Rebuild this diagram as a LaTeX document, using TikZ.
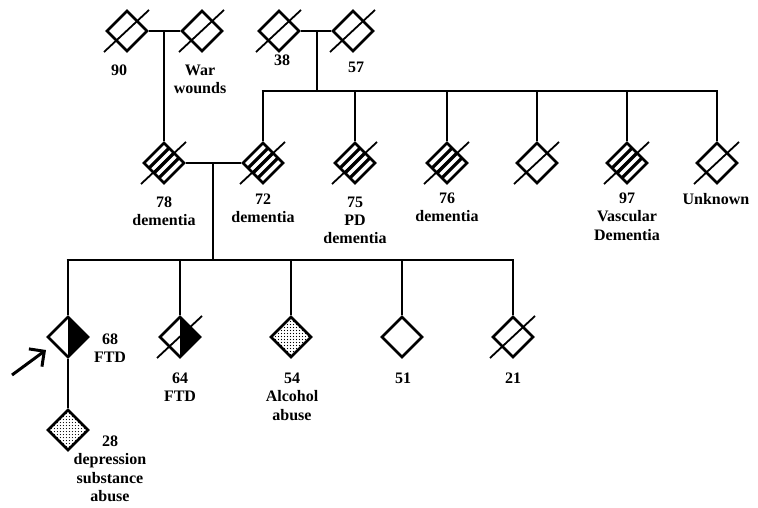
\documentclass[tikz,border=0pt]{standalone}
\usepackage{fontspec}
\setmainfont{Liberation Serif}
\usetikzlibrary{shapes.geometric,patterns,arrows.meta,calc}
\pgfdeclarepatternformonly{bigdots}{\pgfpointorigin}{\pgfpoint{3.4pt}{3.4pt}}{\pgfpoint{3.4pt}{3.4pt}}{
  \pgfpathcircle{\pgfpoint{1.7pt}{1.7pt}}{0.65pt}\pgfusepath{fill}}
\begin{document}
\begin{tikzpicture}[x=1pt,y=-1pt,
  ind/.style={diamond,draw,line width=2.6pt,minimum size=41pt,inner sep=0pt,aspect=1,fill=white},
  striped/.style={ind,path picture={
      \foreach \s in {-7,0,7}{
        \draw[line width=3.2pt] ([shift={(0.7071*\s,0.7071*\s)}]path picture bounding box.center) ++(-25,25) -- ++(50,-50);}
    }},
  halfblack/.style={ind,path picture={
      \fill[black] (path picture bounding box.north) -- (path picture bounding box.east) -- (path picture bounding box.south) -- cycle;}},
  dotted/.style={ind,pattern=bigdots,pattern color=black},
  link/.style={line width=2.6pt},
  strike/.style={line width=1.8pt},
  lbl/.style={font=\fontsize{16}{18.3}\selectfont\bfseries,align=center,anchor=north,inner sep=0pt}
]
\useasboundingbox (0,0) rectangle (758,508);

% ---------- Generation I ----------
\node[ind] (A) at (127,31) {};
\node[ind] (B) at (202,31) {};
\node[ind] (C) at (279,31) {};
\node[ind] (D) at (353,31) {};
\draw[link] (A.east) -- (B.west);
\draw[link] (C.east) -- (D.west);
\coordinate (ab) at (164,31);
\coordinate (cd) at (317,31);

% ---------- Generation II ----------
\node[striped] (E) at (164,163) {};
\node[striped] (F) at (263,163) {};
\node[striped] (G) at (355,163) {};
\node[striped] (H) at (447,163) {};
\node[ind] (I) at (537,163) {};
\node[striped] (J) at (627,163) {};
\node[ind] (K) at (717,163) {};

\coordinate (sib1) at (317,91);
\coordinate (s1F) at (263,91);
\coordinate (s1G) at (355,91);
\coordinate (s1H) at (447,91);
\coordinate (s1I) at (537,91);
\coordinate (s1J) at (627,91);
\coordinate (s1K) at (717,91);
\draw[link] (cd) -- (sib1);
\draw[link] ([xshift=-1.3pt]s1F) -- ([xshift=1.3pt]s1K);
\foreach \n/\c in {F/s1F,G/s1G,H/s1H,I/s1I,J/s1J,K/s1K}{
  \draw[link] ([yshift=-1.3pt]\c) -- (\n.north);
}
\draw[link] (ab) -- (E.north);
\draw[link] (E.east) -- (F.west);
\coordinate (ef) at (213,163);

% ---------- Generation III ----------
\node[halfblack] (L) at (68,337) {};
\node[halfblack] (M) at (180,337) {};
\node[dotted] (N) at (291,337) {};
\node[ind] (O) at (402,337) {};
\node[ind] (P) at (513,337) {};
\coordinate (sib2) at (213,260);
\coordinate (s2L) at (68,260);
\coordinate (s2M) at (180,260);
\coordinate (s2N) at (291,260);
\coordinate (s2O) at (402,260);
\coordinate (s2P) at (513,260);
\draw[link] (ef) -- (sib2);
\draw[link] ([xshift=-1.3pt]s2L) -- ([xshift=1.3pt]s2P);
\foreach \n/\c in {L/s2L,M/s2M,N/s2N,O/s2O,P/s2P}{
  \draw[link] ([yshift=-1.3pt]\c) -- (\n.north);
}

% ---------- Generation IV ----------
\node[dotted] (Q) at (68,430) {};
\draw[link] (L.south) -- (Q.north);

% ---------- deceased strike lines ----------
\foreach \n in {A,B,C,D,E,F,G,H,I,J,K,M,P}{
  \draw[strike] (\n.center) ++(-23,21) -- ++(45,-42);
}

% ---------- proband arrow ----------
\coordinate (arrT) at (12,375);
\coordinate (arrH) at (46,350);
\draw[line width=3pt,-{Straight Barb[length=11pt,width=22pt]}] (arrT) -- (arrH);

% ---------- labels ----------
\node[lbl] (tA) at (119,64.7) {90};
\node[lbl] (tB) at (200,64.7) {War\\wounds};
\node[lbl] (tC) at (282,54.7) {38};
\node[lbl] (tD) at (356,61.7) {57};
\node[lbl] (tE) at (164,196.7) {78\\dementia};
\node[lbl] (tF) at (263,193.7) {72\\dementia};
\node[lbl] (tG) at (355,196.7) {75\\PD\\dementia};
\node[lbl] (tH) at (447,192.7) {76\\dementia};
\node[lbl] (tJ) at (627,192.7) {97\\Vascular\\Dementia};
\node[lbl] (tK) at (716,192.7) {Unknown};
\node[lbl] (tL) at (110,333.7) {68\\FTD};
\node[lbl] (tM) at (180,372.7) {64\\FTD};
\node[lbl] (tN) at (292,372.7) {54\\Alcohol\\abuse};
\node[lbl] (tO) at (403,372.7) {51};
\node[lbl] (tP) at (513,372.7) {21};
\node[lbl] (tQ) at (110,435.7) {28\\depression\\substance\\abuse};
\end{tikzpicture}
\end{document}
